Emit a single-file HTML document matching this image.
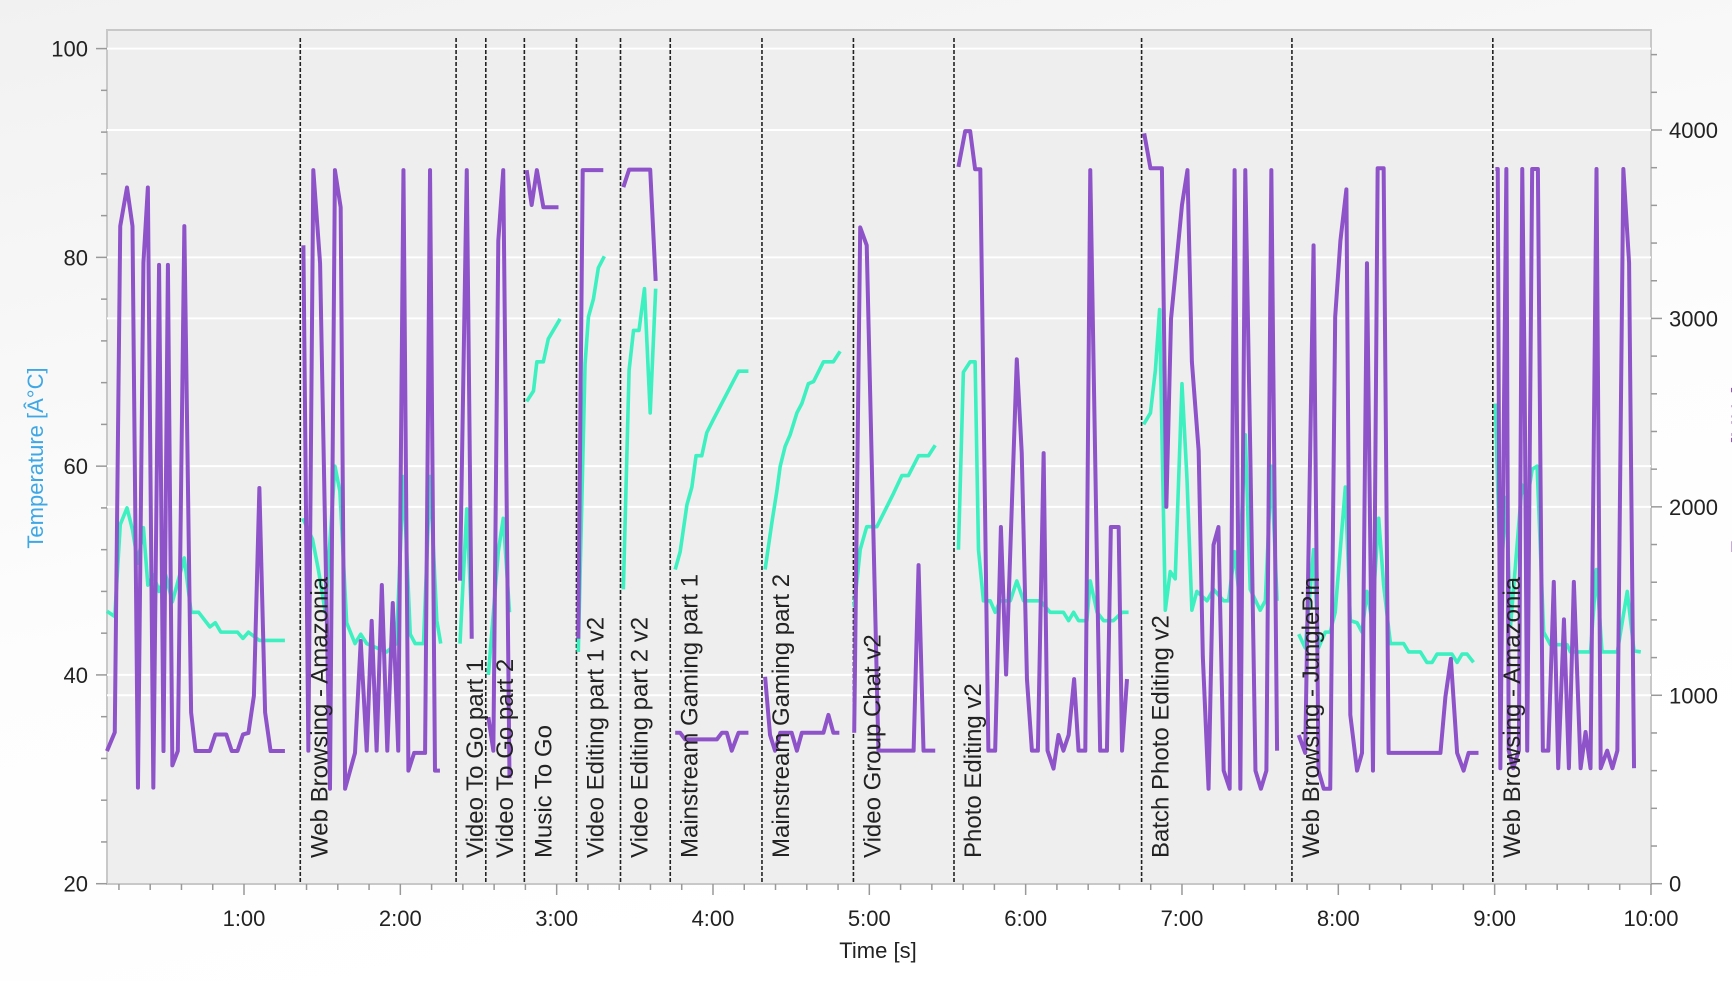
<!DOCTYPE html>
<html><head><meta charset="utf-8"><style>
html,body{margin:0;padding:0;width:1732px;height:981px;overflow:hidden;background:#fff;font-family:"Liberation Sans",sans-serif}
</style></head><body>
<svg id="chart" width="1732" height="981" viewBox="0 0 1732 981" xmlns="http://www.w3.org/2000/svg">
<defs><linearGradient id="bg" x1="0" y1="0" x2="0.35" y2="1"><stop offset="0" stop-color="#f1f1f1"/><stop offset="0.6" stop-color="#fdfdfd"/><stop offset="1" stop-color="#ffffff"/></linearGradient></defs>
<rect x="0" y="0" width="1732" height="981" fill="url(#bg)"/>
<rect x="107" y="30" width="1544" height="854" fill="#eeeeee" stroke="#c8c8c8" stroke-width="2"/>
<g id="grid"></g><g id="marks"></g><g id="labels"></g><g id="axes"></g>
</svg>
<script>
const tempTicks=[20,40,60,80,100];
const freqTicks=[0,1000,2000,3000,4000];
const timeTicks=[60,120,180,240,300,360,420,480,540,600];
const timeTickLabels=["1:00","2:00","3:00","4:00","5:00","6:00","7:00","8:00","9:00","10:00"];
const phaseStarts=[81.6,141.4,152.8,167.6,187.6,204.5,223.6,258.8,293.9,332.5,404.5,462.2,539.3];
const phaseLabels=["Web Browsing - Amazonia","Video To Go part 1","Video To Go part 2","Music To Go","Video Editing part 1 v2","Video Editing part 2 v2","Mainstream Gaming part 1","Mainstream Gaming part 2","Video Group Chat v2","Photo Editing v2","Batch Photo Editing v2","Web Browsing - JunglePin","Web Browsing - Amazonia"];
const freqSegments=[
[[7.4,704],[10.4,803],[12.5,3490],[15.1,3695],[17.2,3490],[19.3,510],[21.4,3296],[23.1,3695],[25.2,510],[27.4,3284],[29.1,704],[30.8,3284],[32.5,628],[34.6,704],[37.1,3490],[39.7,909],[41.4,704],[46.9,704],[49.0,792],[53.2,792],[55.3,704],[57.5,704],[59.6,792],[61.7,800],[63.8,997],[65.9,2100],[68.1,909],[70.2,704],[75.7,704]],
[[82.8,3388],[84.7,706],[86.6,3787],[89.2,3293],[93.0,504],[94.9,3787],[97.1,3590],[98.8,504],[102.6,694],[104.8,1288],[107.1,706],[109.0,1395],[110.9,706],[112.9,1585],[115.0,706],[117.1,1490],[119.2,706],[121.2,3787],[123.1,600],[125.3,694],[129.5,694],[131.4,3787],[133.3,600],[135.2,600]],
[[142.9,1608],[145.5,3787],[147.4,1300]],
[[153.8,884],[155.7,706],[157.6,3412],[159.5,3787],[161.9,560]],
[[168.5,3787],[170.4,3602],[172.4,3787],[174.9,3590],[180.7,3590]],
[[188.3,1300],[190.0,3787],[197.9,3787]],
[[205.6,3697],[207.8,3790],[215.9,3790],[218.0,3199]],
[[225.5,801],[227.4,801],[229.3,766],[241.5,766],[243.4,801],[245.3,801],[247.2,706],[249.8,801],[253.6,801]],
[[260.0,1098],[261.9,789],[263.8,706],[265.8,801],[268.3,801],[270.2,801],[272.2,706],[274.1,801],[282.4,801],[284.3,896],[286.2,801],[288.5,801]],
[[294.2,801],[296.5,3483],[299.0,3388],[303.5,706],[317.0,706],[318.9,1691],[320.8,706],[325.3,706]],
[[334.2,3804],[336.8,3994],[338.7,3994],[340.6,3792],[342.6,3792],[345.7,706],[348.3,706],[350.5,1893],[352.5,1110],[356.6,2783],[358.5,2285],[360.5,1086],[362.4,706],[364.7,706],[366.9,2285],[368.4,706],[370.7,611],[372.6,789],[374.5,706],[376.5,789],[378.6,1086],[380.3,706],[382.9,706],[384.8,3787],[388.6,706],[391.2,706],[392.7,1893],[395.7,1893],[397.0,706],[398.9,1086]],
[[405.5,3982],[407.9,3797],[412.3,3797],[414.0,2000],[415.8,2997],[420.0,3602],[422.1,3787],[423.8,2771],[426.4,2297],[428.0,1205],[430.2,504],[432.1,1798],[434.0,1893],[436.0,600],[438.3,504],[440.2,3787],[442.4,504],[444.3,3787],[446.2,2297],[448.2,600],[450.3,504],[452.4,600],[454.3,3787],[456.5,706]],
[[464.8,789],[467.3,694],[470.5,3388],[472.4,600],[474.4,504],[476.9,504],[478.8,3008],[480.8,3412],[483.1,3685],[484.6,896],[487.2,600],[489.1,694],[491.0,3293],[493.3,600],[495.1,3797],[497.4,3797],[499.3,694],[519.2,694],[521.1,991],[523.2,1193],[525.6,694],[528.1,600],[530.0,694],[533.8,694]],
[[540.3,3793],[541.2,3793],[542.2,613],[544.5,3793],[545.4,706],[547.1,613],[549.3,706],[550.6,3793],[551.5,2698],[552.5,706],[554.4,3793],[556.6,3793],[558.5,706],[560.6,706],[562.7,1602],[564.4,613],[566.6,1403],[568.5,613],[570.4,1602],[573.0,613],[574.9,805],[576.8,613],[579.1,3793],[580.7,613],[583.2,706],[585.2,613],[587.1,706],[589.4,3793],[591.6,3295],[593.5,613]]
];
const tempSegments=[
[[7.4,46.1],[10.4,45.6],[12.5,54.4],[15.1,56],[17.2,53.9],[19.3,50.7],[21.4,54.1],[23.1,48.6],[25.2,49.6],[27.4,48],[29.9,49.6],[32.5,47],[37.1,51.2],[39.7,46],[42.6,46],[46.9,44.6],[49,45],[51.1,44.1],[57.5,44.1],[59.6,43.5],[61.7,44.1],[65.9,43.3],[75.7,43.3]],
[[82.6,55],[86.3,53],[88.6,50],[91.2,46],[94.9,60],[96.8,57.6],[99.4,45],[102.6,43],[104.8,43.9],[107.1,43],[114.7,42.2],[118.5,43],[121.2,59],[123.8,43.9],[125.7,43],[128.9,43],[131.4,59],[134,45.2],[135.5,43]],
[[142.9,43],[145.5,55.9],[147.4,45]],
[[153.8,40],[157.6,51.8],[159.5,55],[161.9,46]],
[[168.5,66.2],[171.1,67.2],[172.4,70],[174.9,70],[176.8,72.2],[181.3,74.1]],
[[188.3,42.2],[190.9,69.8],[192.2,74.3],[194.1,76],[196.0,79],[198.3,80.1]],
[[205.6,48.2],[207.8,69.2],[209.5,73],[211.6,73],[213.7,77],[215.9,65.1],[218.0,77]],
[[225.5,50.1],[227.4,51.8],[230.0,56.3],[231.9,58],[233.5,61],[235.7,61],[237.6,63.2],[240.2,64.5],[249.8,69.1],[253.6,69.1]],
[[260.0,50.1],[262.6,54.6],[264.5,57.6],[265.8,60],[267.7,61.9],[269.6,63],[272.2,65.1],[274.1,66],[276.6,67.9],[278.6,68.1],[282.4,70],[286.2,70],[288.8,71]],
[[294.2,46.5],[296.5,52],[299.0,54.2],[302.9,54.2],[309.3,57.4],[312.5,59.1],[315.0,59.1],[318.9,61],[322.7,61],[325.3,62]],
[[334.2,52],[336.1,69],[338.7,70],[340.6,70],[341.9,52],[343.8,47.1],[346.4,47.1],[348.3,46],[350.2,47.1],[354.1,47.1],[356.6,49],[359.2,47.1],[365.6,47.1],[369.4,46],[374.5,46],[376.5,45.2],[378.4,46],[380.3,45.2],[383.5,45.2],[384.8,49],[387.4,46],[389.9,45.2],[393.7,45.2],[397.0,46],[399.5,46]],
[[405.3,64],[407.9,65.1],[409.8,69.2],[411.4,75],[413.6,46.2],[415.5,49.9],[417.4,49.2],[420,67.9],[421.9,58.9],[423.8,46.2],[425.7,48],[429.6,47.1],[432.1,48.2],[436,47.1],[437.9,47.1],[440.2,51.8],[441.7,48.2],[444.3,63],[446.2,48.2],[450,46.2],[452,47.1],[454.3,60],[456.5,47.1]],
[[464.8,43.9],[467.3,42.6],[470.5,52],[472.4,42.6],[475.0,44.1],[476.9,44.1],[478.8,46],[482.7,58],[484.6,45.2],[487.2,45],[489.1,44.1],[491.0,48],[492.9,45.2],[495.5,55],[497.4,48.6],[500.0,43],[505.1,43],[507.0,42.2],[511.5,42.2],[514.0,41.2],[516.0,41.2],[517.9,42],[523.6,42],[525.6,41.2],[527.5,42],[529.4,42],[531.9,41.2]],
[[540.3,66],[542.2,48.9],[544.5,57],[546.1,44.7],[550.5,58.2],[552.5,56.7],[554.4,59.7],[556.3,60],[558.8,44.1],[561.4,42.9],[567.8,42.9],[569.1,42.2],[576.8,42.2],[579.1,50.1],[581.2,42.2],[587.1,42.2],[590.9,48],[593.5,42.3],[596.1,42.2]]
];
const NS="http://www.w3.org/2000/svg";
const X0=107,X1=1651,YB=883.7,YT=48.6;
function xS(t){return 244+(t-60)*156.33/60;}
function yT(v){return YB-(v-20)*(YB-YT)/80;}
function yF(v){return YB-v*753.7/4000;}
function mk(tag,attrs,parent){const e=document.createElementNS(NS,tag);for(const k in attrs)e.setAttribute(k,attrs[k]);parent.appendChild(e);return e;}
const grid=document.getElementById('grid'),marks=document.getElementById('marks'),labels=document.getElementById('labels'),axes=document.getElementById('axes');
tempTicks.forEach(v=>{if(v===20)return;const l=mk('line',{x1:X0,x2:X1,y1:yT(v),y2:yT(v),stroke:'#ffffff','stroke-width':2},grid);

});
freqTicks.forEach(v=>{if(v===0)return;const l=mk('line',{x1:X0,x2:X1,y1:yF(v),y2:yF(v),stroke:'#ffffff','stroke-width':2},grid);

});
for(let v=20;v<=100;v+=4){const major=v%20===0;const l=mk('line',{x1:major?96:101,x2:107,y1:yT(v),y2:yT(v),stroke:'#999','stroke-width':1.5},axes);

}
tempTicks.forEach(v=>{const t=mk('text',{x:88,y:yT(v)+8,'text-anchor':'end','font-size':22,fill:'#222'},axes);t.textContent=v;

});
for(let v=0;v<=4400;v+=200){const major=v%1000===0;const l=mk('line',{x1:1651,x2:major?1662:1657,y1:yF(v),y2:yF(v),stroke:'#999','stroke-width':1.5},axes);

}
freqTicks.forEach(v=>{const t=mk('text',{x:1669,y:yF(v)+8,'font-size':22,fill:'#222'},axes);t.textContent=v;

});
for(let s=12;s<=600;s+=12){if(xS(s)<X0+3)continue;const major=s%60===0;const l=mk('line',{x1:xS(s),x2:xS(s),y1:884,y2:major?895:890,stroke:'#999','stroke-width':1.5},axes);

}
timeTicks.forEach((s,i)=>{const t=mk('text',{x:xS(s),y:926,'text-anchor':'middle','font-size':22,fill:'#222'},axes);t.textContent=timeTickLabels[i];

});
const xt=mk('text',{x:878,y:958,'text-anchor':'middle','font-size':22,fill:'#222'},axes);xt.textContent='Time [s]';


const yt=mk('text',{x:0,y:0,'text-anchor':'middle','font-size':22,fill:'#3ea8e6',transform:'translate(43,458) rotate(-90)'},axes);yt.textContent='Temperature [Â°C]';


const yr=mk('text',{x:0,y:0,'text-anchor':'middle','font-size':22,fill:'#9b4fc8',transform:'translate(1747,470) rotate(-90)'},axes);yr.textContent='Frequency [MHz]';


phaseStarts.forEach((s,i)=>{const x=xS(s);const l=mk('line',{x1:x,x2:x,y1:38,y2:884,stroke:'#222','stroke-width':1.6,'stroke-dasharray':'4,2'},marks);


const t=mk('text',{x:0,y:0,'font-size':24,fill:'#222',transform:'translate('+(x+27)+',858) rotate(-90)'},labels);t.textContent=phaseLabels[i];

});
tempSegments.forEach(seg=>{const p=mk('polyline',{points:seg.map(d=>xS(d[0])+','+yT(d[1])).join(' '),fill:'none',stroke:'#3cf0c0','stroke-width':3.6,'stroke-linejoin':'round'},marks);

});
freqSegments.forEach(seg=>{const p=mk('polyline',{points:seg.map(d=>xS(d[0])+','+yF(d[1])).join(' '),fill:'none',stroke:'#8e52c9','stroke-width':4,'stroke-linejoin':'round'},marks);

});
</script>
</body></html>
